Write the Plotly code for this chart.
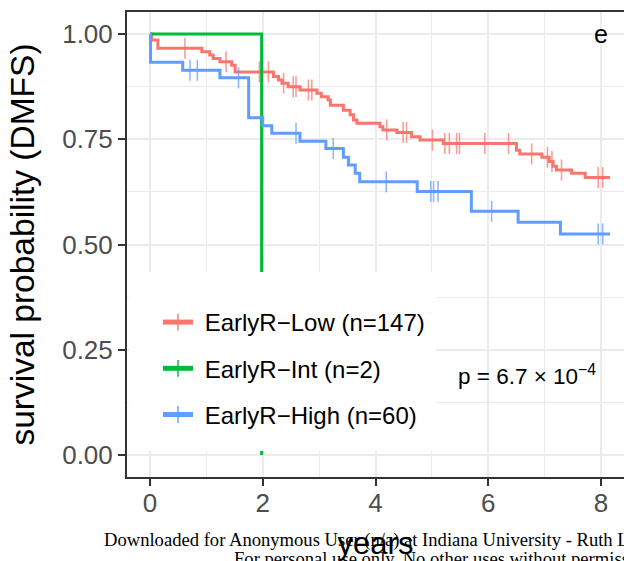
import plotly.graph_objects as go

# ---------------- data ----------------
low_event_t = [0.03, 0.14, 0.92, 1.06, 1.12, 1.24, 1.45, 1.51, 2.19, 2.28, 2.34, 2.45,
               2.66, 2.96, 3.04, 3.16, 3.20, 3.43, 3.55, 3.61, 3.67, 4.08, 4.13, 4.38,
               4.64, 4.79, 5.20, 6.50, 6.56, 6.95, 7.08, 7.15, 7.21, 7.48, 7.72]
low_event_s = [0.986, 0.966, 0.958, 0.950, 0.942, 0.934, 0.926, 0.910, 0.899, 0.891, 0.883, 0.875,
               0.867, 0.859, 0.851, 0.843, 0.831, 0.819, 0.808, 0.796, 0.788, 0.780, 0.772, 0.766,
               0.756, 0.748, 0.740, 0.724, 0.715, 0.707, 0.697, 0.686, 0.677, 0.669, 0.659]
low_censor_t = [0.62, 1.35, 1.94, 2.10, 2.37, 2.54, 2.59, 2.81, 2.87, 4.20, 4.49, 4.55, 5.01,
                5.23, 5.31, 5.44, 5.49, 5.94, 6.36, 6.77, 7.05, 7.13, 7.30, 7.95, 8.03]
low_end_t = 8.16

int_event_t = [1.98]
int_event_s = [0.0]
int_censor_t = []
int_end_t = None

high_event_t = [0.01, 0.58, 1.24, 1.75, 2.00, 2.16, 2.66, 3.12, 3.43, 3.52, 3.64, 3.72,
                4.74, 5.70, 6.53, 7.28]
high_event_s = [0.933, 0.914, 0.896, 0.801, 0.782, 0.764, 0.745, 0.728, 0.707, 0.689, 0.669, 0.649,
                0.626, 0.579, 0.553, 0.525]
high_censor_t = [0.71, 0.84, 1.57, 2.59, 3.25, 4.19, 4.98, 5.03, 5.11, 6.06, 7.95, 8.03]
high_end_t = 8.16

group_names = ["EarlyR\u2212Low (n=147)", "EarlyR\u2212Int (n=2)", "EarlyR\u2212High (n=60)"]
group_colors = ["#F8766D", "#00BA38", "#619CFF"]

x_ticks = [0, 2, 4, 6, 8]
y_ticks = [0.00, 0.25, 0.50, 0.75, 1.00]
p_text = "p = 6.7 \u00d7 10<sup>\u22124</sup>"
panel_tag = "e"


def surv_at(t, ev_t, ev_s):
    s = 1.0
    for et, es in zip(ev_t, ev_s):
        if et <= t:
            s = es
    return s


def build_curve(ev_t, ev_s, cens_t, end_t):
    pts = [(0.0, 1.0, False)]
    pts += [(t, s, False) for t, s in zip(ev_t, ev_s)]
    pts += [(c, surv_at(c, ev_t, ev_s), True) for c in cens_t]
    if end_t is not None:
        pts.append((end_t, surv_at(end_t, ev_t, ev_s), False))
    pts.sort(key=lambda p: p[0])
    xs = [p[0] for p in pts]
    ys = [p[1] for p in pts]
    sizes = [15 if p[2] else 0.001 for p in pts]
    return xs, ys, sizes


groups = [
    (low_event_t, low_event_s, low_censor_t, low_end_t),
    (int_event_t, int_event_s, int_censor_t, int_end_t),
    (high_event_t, high_event_s, high_censor_t, high_end_t),
]

fig = go.Figure()
for i, ((et, es, ct, end), name, col) in enumerate(zip(groups, group_names, group_colors)):
    xs, ys, sizes = build_curve(et, es, ct, end)
    fig.add_trace(go.Scatter(
        x=xs, y=ys, mode="lines+markers", name="\u00a0" + name,
        legendgroup="g%d" % i,
        line=dict(shape="hv", color=col, width=3),
        marker=dict(symbol="line-ns", size=sizes, color=col,
                    line=dict(color=col, width=1.6)),
        hoverinfo="x+y+name",
    ))

# plot area geometry: left 127, right 624, top 12, bottom 477
W, H = 624, 561
L, R, T, B = 127, 0, 12, 84
pw, ph = W - L - R, H - T - B

def px_x(p):
    return (p - L) / pw

def px_y(p):
    return (H - B - p) / ph

axis_font = dict(family="Liberation Sans", size=26, color="#4D4D4D")

fig.update_layout(
    width=W, height=H,
    margin=dict(l=L, r=R, t=T, b=B, autoexpand=False),
    plot_bgcolor="white", paper_bgcolor="white",
    font=dict(family="Liberation Sans", color="black"),
    showlegend=True,
    legend=dict(
        x=px_x(158), y=px_y(300), xanchor="left", yanchor="top",
        bgcolor="rgba(0,0,0,0)", borderwidth=0,
        font=dict(family="Liberation Sans", size=24, color="black"),
        tracegroupgap=12, traceorder="grouped", itemsizing="constant",
    ),
    xaxis=dict(
        range=[-0.408, 8.408], tickvals=x_ticks, ticktext=[str(v) for v in x_ticks],
        showgrid=True, gridcolor="#EBEBEB", gridwidth=1.6, zeroline=False,
        minor=dict(dtick=1, tick0=0, showgrid=True, gridcolor="#EBEBEB", gridwidth=0.9),
        showline=True, linecolor="#333333", linewidth=2, mirror=True,
        ticks="outside", ticklen=7, tickwidth=2, tickcolor="#333333",
        tickfont=axis_font, ticklabelstandoff=-5,
        title=dict(text="years", font=dict(family="Liberation Sans", size=31, color="black"),
                   standoff=17),
    ),
    yaxis=dict(
        range=[-0.0523, 1.0523], tickvals=y_ticks, ticktext=["%.2f" % v for v in y_ticks],
        showgrid=True, gridcolor="#EBEBEB", gridwidth=1.6, zeroline=False,
        minor=dict(dtick=0.125, tick0=0, showgrid=True, gridcolor="#EBEBEB", gridwidth=0.9),
        showline=True, linecolor="#333333", linewidth=2, mirror=False,
        ticks="outside", ticklen=7, tickwidth=2, tickcolor="#333333",
        tickfont=axis_font,
        title=dict(text="survival probability (DMFS)",
                   font=dict(family="Liberation Sans", size=33.5, color="black"), standoff=17),
    ),
)

# white legend background box (covers grid and curves as in the original)
fig.add_shape(type="rect", xref="paper", yref="paper",
              x0=0.004, x1=px_x(436), y0=px_y(451), y1=px_y(272),
              fillcolor="white", line=dict(width=0), layer="above")

fig.add_annotation(x=8, y=1.0, xref="x", yref="y", text=panel_tag, showarrow=False,
                   font=dict(family="Liberation Sans", size=25, color="black"),
                   xanchor="center", yanchor="middle")
fig.add_annotation(x=6.68, y=0.19, xref="x", yref="y", text=p_text, showarrow=False,
                   font=dict(family="Liberation Sans", size=22.5, color="black"),
                   xanchor="center", yanchor="middle")

# watermark lines at the bottom
fig.add_annotation(x=px_x(102), y=px_y(540), xref="paper", yref="paper",
                   text="Downloaded for Anonymous User (n/a) at Indiana University - Ruth Lilly Medical Library",
                   showarrow=False, xanchor="left", yanchor="middle",
                   font=dict(family="Liberation Serif", size=18.6, color="black"))
fig.add_annotation(x=px_x(232), y=px_y(558), xref="paper", yref="paper",
                   text="For personal use only. No other uses without permission.",
                   showarrow=False, xanchor="left", yanchor="middle",
                   font=dict(family="Liberation Serif", size=18.6, color="black"))

fig.write_html("out.html", config={"displayModeBar": False},
               post_script="document.body.style.margin='0';document.body.style.overflow='hidden';")
